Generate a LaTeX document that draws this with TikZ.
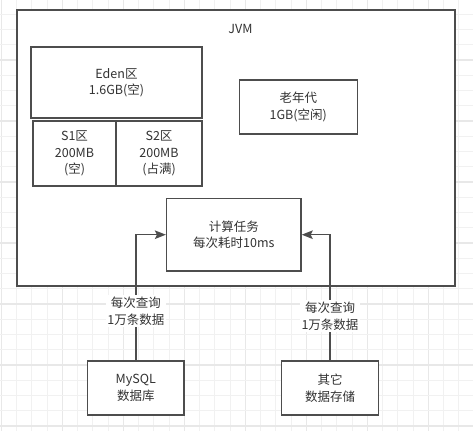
\documentclass[tikz,border=0pt]{standalone}
\usepackage{fontspec}
\setmainfont{Noto Sans CJK SC}
\usetikzlibrary{arrows.meta}
\definecolor{ln}{RGB}{77,77,77}
\definecolor{tx}{RGB}{51,51,51}
\definecolor{gmin}{RGB}{241,241,241}
\definecolor{gmaj}{RGB}{232,232,232}
\begin{document}
\begin{tikzpicture}[x=1pt,y=-1pt,
 box/.style={draw=ln,line width=1.5pt,fill=white,inner sep=0pt,text=tx,
   font=\fontsize{12.5}{16.5}\selectfont,align=center},
 lbl/.style={text=tx,font=\fontsize{12.5}{16.5}\selectfont,align=center},
 qlbl/.style={lbl,fill=white,inner sep=1.5pt},
 conn/.style={draw=ln,line width=1.5pt,-{Stealth[length=11pt,width=8.5pt,inset=2pt]}}]
\useasboundingbox (0,0) rectangle (473,431);
\fill[white] (0,0) rectangle (473,431);
% grid
\foreach \i in {0,...,31} {
  \pgfmathtruncatemacro{\m}{mod(\i,4)}
  \ifnum\m=0
    \draw[gmaj,line width=1.2pt] ({1.3+15.25*\i},0) -- ({1.3+15.25*\i},431);
  \else
    \draw[gmin,line width=1pt] ({1.3+15.25*\i},0) -- ({1.3+15.25*\i},431);
  \fi
}
\foreach \i in {0,...,29} {
  \pgfmathtruncatemacro{\m}{mod(\i,4)}
  \ifnum\m=0
    \draw[gmaj,line width=1.2pt] (0,{-1+15.25*\i}) -- (473,{-1+15.25*\i});
  \else
    \draw[gmin,line width=1pt] (0,{-1+15.25*\i}) -- (473,{-1+15.25*\i});
  \fi
}
% boxes
\node[box,minimum width=438pt,minimum height=276pt] (jvm) at (236,148) {};
\node[lbl] (jvmt) at (240.5,28.5) {JVM};
\node[box,minimum width=171pt,minimum height=71pt] (eden) at (116.5,82.5) {Eden区\\1.6GB(空)};
\node[box,minimum width=83pt,minimum height=65pt] (s1) at (74.5,153.5) {S1区\\200MB\\(空)};
\node[box,minimum width=86pt,minimum height=65pt] (s2) at (159,153.5) {S2区\\200MB\\(占满)};
\node[box,minimum width=118pt,minimum height=54pt] (old) at (298.3,107) {老年代\\1GB(空闲)};
\node[box,minimum width=134.3pt,minimum height=72.7pt] (task) at (233.8,234.7) {计算任务\\每次耗时10ms};
\node[box,minimum width=96.3pt,minimum height=54pt] (mysql) at (135.8,388) {MySQL\\数据库};
\node[box,minimum width=96.6pt,minimum height=54pt] (other) at (330,388) {其它\\数据存储};
% connectors
\draw[conn] (mysql.north) |- (task.west);
\draw[conn] (other.north) |- (task.east);
\node[qlbl] (q1) at (135.8,311) {每次查询\\1万条数据};
\node[qlbl] (q2) at (330,316) {每次查询\\1万条数据};
\end{tikzpicture}
\end{document}
